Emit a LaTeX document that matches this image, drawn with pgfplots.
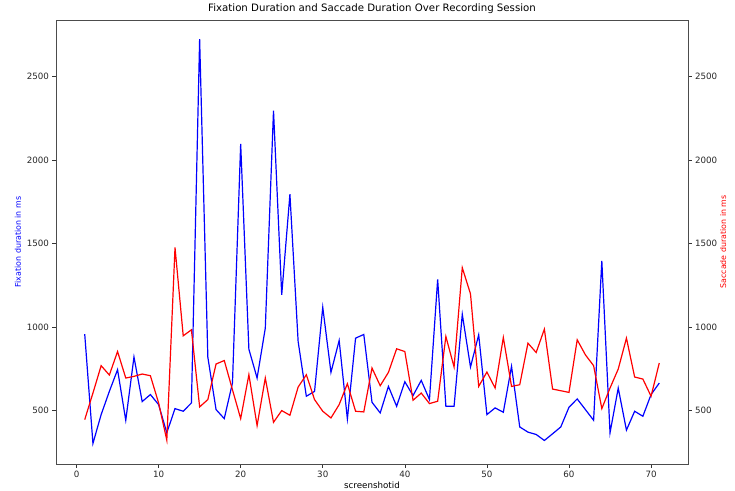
\documentclass[border=0pt]{standalone}
\usepackage{fontspec}
\setmainfont{DejaVu Sans}
\usepackage{pgfplots}
\pgfplotsset{compat=1.18}
\pgfplotstableread{
x fix sac
1 958 446
2 303 605
3 476 769
4 615 713
5 745 854
6 442 695
7 821 705
8 554 719
9 596 709
10 536 546
11 367 323
12 512 1477
13 496 948
14 546 984
15 2725 522
16 820 566
17 506 779
18 452 800
19 665 625
20 2098 452
21 868 715
22 695 410
23 994 695
24 2297 430
25 1193 500
26 1796 472
27 914 641
28 586 715
29 615 566
30 1119 496
31 729 456
32 920 536
33 450 661
34 934 496
35 956 492
36 550 755
37 486 649
38 645 729
39 526 870
40 673 854
41 590 562
42 681 605
43 566 542
44 1286 556
45 526 944
46 526 761
47 1077 1356
48 761 1199
49 954 645
50 476 731
51 516 635
52 490 938
53 765 645
54 402 655
55 371 904
56 357 848
57 321 988
58 361 629
59 402 619
60 520 609
61 570 924
62 506 834
63 442 769
64 1397 512
65 367 635
66 635 749
67 383 934
68 496 701
69 466 689
70 596 586
71 665 785
}\data
\begin{document}
\begin{tikzpicture}
\pgfplotsset{every axis/.append style={
  scale only axis, width=632pt, height=444pt,
  xmin=-2.5, xmax=74.5, ymin=180, ymax=2840,
  /pgf/number format/assume math mode=true,
  /pgf/number format/set thousands separator={},
  tick label style={font=\fontsize{8.7}{10}\selectfont, text=black!85},
  tick align=outside, major tick length=3.5pt,
  tick style={black!80, line width=0.6pt},
  axis line style={black!70, line width=0.7pt},
  ytick={500,1000,1500,2000,2500}, scaled y ticks=false,
}}
\begin{axis}[at={(0,0)}, anchor=south west,
  xtick={0,10,...,70}, xtick pos=bottom, ytick pos=left,
  title={Fixation Duration and Saccade Duration Over Recording Session},
  title style={font=\fontsize{10.2}{12}\selectfont, yshift=-3pt},
  xlabel={screenshotid},
  xlabel style={font=\fontsize{8.7}{10}\selectfont, yshift=3pt},
  ylabel={Fixation duration in ms},
  ylabel style={blue, font=\fontsize{7.9}{9}\selectfont, yshift=-1pt},
]
\addplot[blue, line width=1.2pt] table[x=x, y=fix] {\data};
\end{axis}
\begin{axis}[at={(0,0)}, anchor=south west,
  axis y line*=right, axis x line=none,
  ylabel={Saccade duration in ms},
  ylabel style={red, font=\fontsize{7.9}{9}\selectfont, yshift=4pt},
]
\addplot[red, line width=1.2pt] table[x=x, y=sac] {\data};
\end{axis}
\pgfresetboundingbox
\path[use as bounding box] (-56pt,-26pt) rectangle (679pt,464pt);
\end{tikzpicture}
\end{document}
